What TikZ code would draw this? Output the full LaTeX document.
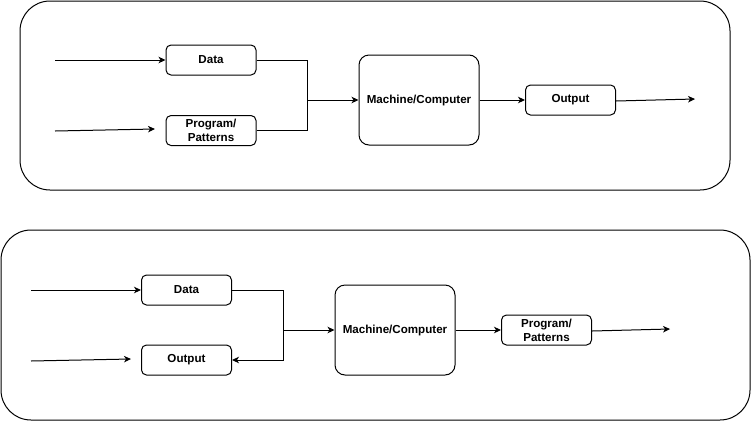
\documentclass[tikz,border=0pt]{standalone}
\usepackage{fontspec}
\setmainfont{Liberation Sans}
\usetikzlibrary{arrows.meta}
\begin{document}
\begin{tikzpicture}[x=1pt,y=-1pt,
  panel/.style={draw, line width=1pt, rounded corners=30pt, inner sep=0pt},
  box/.style={draw, line width=1pt, rounded corners=5pt, inner sep=0pt,
    font=\fontsize{11.6}{14}\selectfont\bfseries, align=center,
    minimum width=90pt, minimum height=30pt},
  bigbox/.style={box, rounded corners=10pt, minimum width=120pt, minimum height=90pt},
  conn/.style={line width=1pt},
  arr/.style={line width=1pt, -{Stealth[length=7pt,width=6.5pt,inset=2pt]}}
]
\useasboundingbox (0,0) rectangle (751,421);

% ---------- top panel ----------
\node[panel, minimum width=710pt, minimum height=189pt] (p1) at (375,95.5) {};
\node[box] (data1) at (211,60) {Data};
\node[box] (prog1) at (211,130.5) {Program/\\Patterns};
\node[bigbox] (mach1) at (419,100) {Machine/Computer};
\node[box] (out1) at (570.5,100) {Output};
\coordinate (j1) at (307,100);
\coordinate (in1a) at (55,60);
\coordinate (in1b) at (55,131);
\coordinate (in1bend) at (155,129);
\coordinate (o1end) at (695,99);

\draw[arr] (in1a) -- (data1.west);
\draw[arr] (in1b) -- (in1bend);
\draw[conn] (data1.east) -| (j1);
\draw[conn] (prog1.east) -| (j1);
\draw[arr] (j1) -- (mach1.west);
\draw[arr] (mach1.east) -- (out1.west);
\draw[arr] (out1.east) ++(0,1) -- (o1end);

% ---------- bottom panel ----------
\node[panel, minimum width=749pt, minimum height=190pt] (p2) at (375.5,325) {};
\node[box] (data2) at (186.5,290) {Data};
\node[box] (out2) at (186.5,360) {Output};
\node[bigbox] (mach2) at (395,330) {Machine/Computer};
\node[box] (prog2) at (546.5,330) {Program/\\Patterns};
\coordinate (j2) at (283,330);
\coordinate (in2a) at (31,290);
\coordinate (in2b) at (31,361);
\coordinate (in2bend) at (131,359);
\coordinate (o2end) at (670,329);

\draw[arr] (in2a) -- (data2.west);
\draw[arr] (in2b) -- (in2bend);
\draw[conn] (data2.east) -| (j2);
\draw[arr] (j2) -- (mach2.west);
\draw[arr] (j2) |- (out2.east);
\draw[arr] (mach2.east) -- (prog2.west);
\draw[arr] (prog2.east) ++(0,1) -- (o2end);
\end{tikzpicture}
\end{document}
